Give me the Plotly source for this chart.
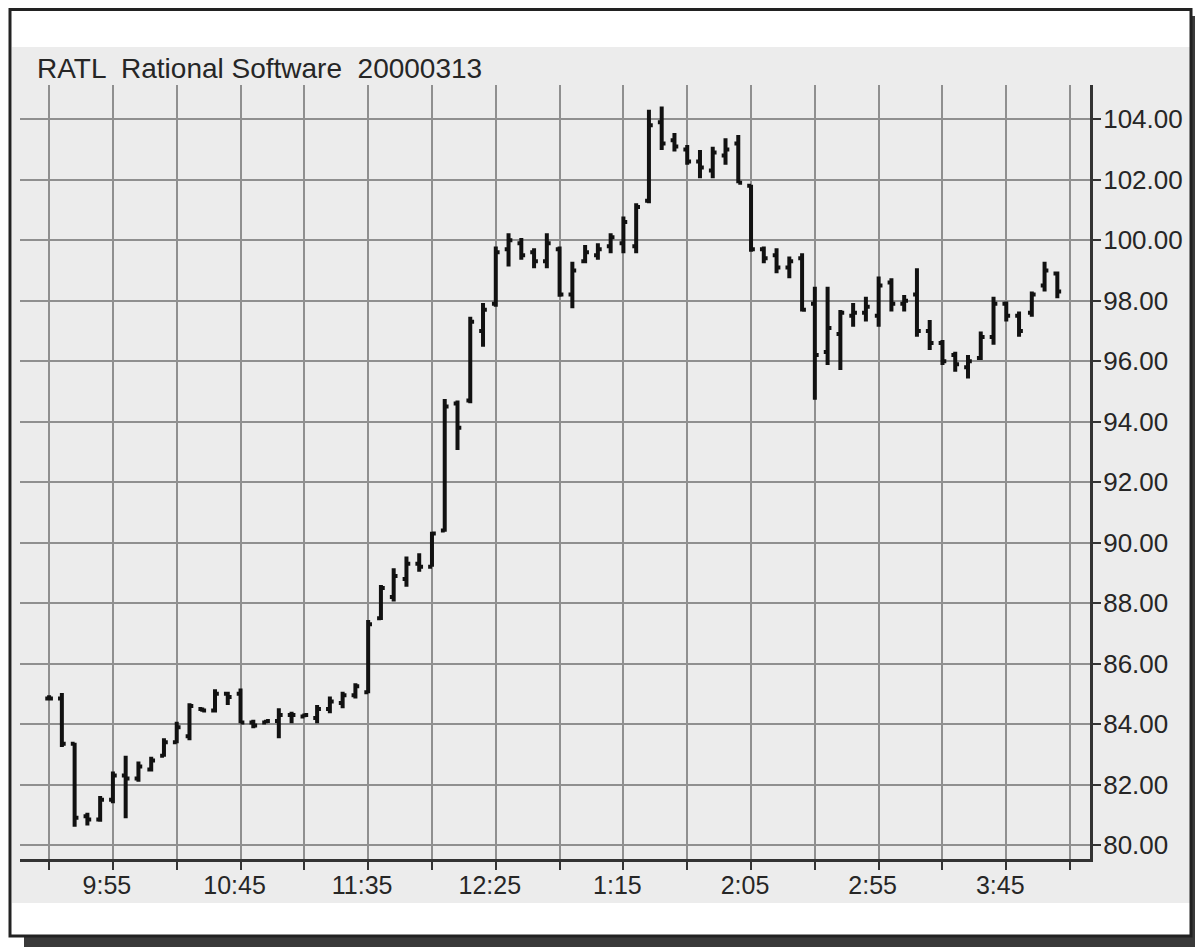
import pandas as pd
import plotly.graph_objects as go

title_text = "RATL  Rational Software  20000313"

times = pd.date_range("2000-03-13 09:30", periods=80, freq="5min")

opens = [84.85, 84.85, 83.35, 80.95, 80.85, 81.50, 82.30, 82.20, 82.50, 82.95,
         83.40, 83.60, 84.50, 84.45, 85.00, 85.00, 84.05, 84.05, 84.10, 84.30,
         84.25, 84.20, 84.50, 84.70, 84.95, 85.05, 87.50, 88.20, 88.80, 89.30,
         89.20, 90.40, 94.60, 94.70, 97.00, 97.90, 99.70, 99.90, 99.60, 99.30,
         99.70, 98.20, 99.30, 99.50, 99.80, 99.90, 99.80, 101.30, 103.90, 103.30,
         103.00, 102.60, 102.30, 102.80, 103.20, 101.80, 99.70, 99.50, 99.10, 99.40,
         97.90, 96.30, 96.90, 97.50, 97.60, 97.50, 98.60, 97.90, 98.20, 97.00,
         96.60, 96.20, 95.80, 96.10, 96.80, 97.90, 97.50, 97.60, 98.50, 98.90]
highs = [84.95, 85.03, 83.38, 81.07, 81.62, 82.43, 82.95, 82.76, 82.92, 83.53,
         84.08, 84.69, 84.55, 85.15, 85.07, 85.18, 84.14, 84.14, 84.52, 84.41,
         84.35, 84.63, 84.91, 85.07, 85.35, 87.44, 88.60, 89.15, 89.54, 89.65,
         90.36, 94.75, 94.70, 97.47, 97.92, 99.79, 100.23, 100.07, 99.73, 100.23,
         99.79, 99.29, 99.84, 99.90, 100.23, 100.78, 101.22, 104.31, 104.42, 103.54,
         103.15, 102.98, 103.09, 103.37, 103.48, 101.83, 99.79, 99.73, 99.46, 99.57,
         98.46, 98.46, 97.69, 97.92, 98.13, 98.80, 98.74, 98.19, 99.07, 97.36,
         96.70, 96.31, 96.20, 96.98, 98.13, 97.97, 97.64, 98.30, 99.29, 98.96]
lows = [84.78, 83.24, 80.61, 80.65, 80.77, 81.38, 80.89, 82.09, 82.43, 82.92,
        83.37, 83.47, 84.41, 84.38, 84.63, 84.03, 83.86, 84.03, 83.53, 84.03,
        84.23, 84.03, 84.36, 84.52, 84.85, 85.02, 87.44, 88.05, 88.54, 89.04,
        89.20, 90.36, 93.06, 94.61, 96.48, 97.80, 99.13, 99.35, 99.07, 99.07,
        98.13, 97.75, 99.24, 99.35, 99.57, 99.57, 99.57, 101.22, 102.98, 102.93,
        102.49, 102.05, 102.05, 102.49, 101.88, 99.62, 99.24, 98.91, 98.74, 97.64,
        94.72, 95.87, 95.71, 97.14, 97.31, 97.14, 97.64, 97.64, 96.81, 96.37,
        95.87, 95.65, 95.43, 96.04, 96.54, 97.31, 96.81, 97.47, 98.30, 98.08]
closes = [84.85, 83.35, 80.90, 80.85, 81.50, 82.30, 82.20, 82.60, 82.80, 83.40,
          83.90, 84.60, 84.45, 85.00, 84.90, 84.05, 83.95, 84.10, 84.30, 84.30,
          84.30, 84.50, 84.75, 84.95, 85.25, 87.30, 88.50, 88.90, 89.30, 89.20,
          90.30, 94.50, 93.80, 97.30, 97.70, 99.60, 100.00, 99.50, 99.30, 99.90,
          98.20, 99.00, 99.60, 99.70, 100.10, 100.60, 101.10, 103.80, 103.20, 103.10,
          102.60, 102.40, 102.90, 103.00, 101.90, 99.70, 99.40, 99.10, 99.30, 97.70,
          96.20, 97.10, 97.60, 97.60, 97.80, 98.50, 97.90, 98.00, 97.00, 96.60,
          96.00, 95.90, 96.00, 96.80, 97.90, 97.50, 97.00, 98.20, 99.00, 98.30]

x_tick_times = pd.date_range("2000-03-13 09:30", "2000-03-13 16:10", freq="25min")
x_tick_labels = ["", "9:55", "", "10:45", "", "11:35", "", "12:25", "",
                 "1:15", "", "2:05", "", "2:55", "", "3:45", ""]
y_tick_values = [80, 82, 84, 86, 88, 90, 92, 94, 96, 98, 100, 102, 104]

# the page body adds an 8px margin, so the figure is laid out 8px up/left
OFF = 8
W, H = 1203 - OFF, 947 - OFF
L_PX, R_PX, T_PX, B_PX = 20 - OFF, 1090 - OFF, 85 - OFF, 859 - OFF


def px_x(px):
    return (px - OFF - L_PX) / (R_PX - L_PX)


def px_y(py):
    return (B_PX - (py - OFF)) / (B_PX - T_PX)


fig = go.Figure(go.Ohlc(
    x=times, open=opens, high=highs, low=lows, close=closes,
    increasing=dict(line=dict(color="#111111", width=4)),
    decreasing=dict(line=dict(color="#111111", width=4)),
    tickwidth=0.3, showlegend=False, hoverinfo="x+y",
))

grid = "#8f8f8f"
axis_col = "#333333"
fig.update_layout(
    width=W, height=H,
    paper_bgcolor="white", plot_bgcolor="#ececec",
    margin=dict(l=L_PX, r=W - R_PX, t=T_PX, b=H - B_PX, pad=0),
    font=dict(family="Liberation Sans, Arial, sans-serif", color="#262626", size=25),
    xaxis=dict(
        type="date",
        range=["2000-03-13 09:18:36", "2000-03-13 16:17:48"],
        tickvals=list(x_tick_times), ticktext=x_tick_labels,
        showgrid=True, gridcolor=grid, gridwidth=1.8,
        showline=True, linecolor=axis_col, linewidth=3,
        ticks="outside", ticklen=8, tickwidth=2, tickcolor=axis_col,
        ticklabelshift=-6, ticklabelstandoff=-6,
        rangeslider=dict(visible=False), zeroline=False,
        tickfont=dict(size=25, color="#262626"),
    ),
    yaxis=dict(
        side="right", range=[79.54, 105.13],
        tickvals=y_tick_values, tickformat=".2f",
        showgrid=True, gridcolor=grid, gridwidth=1.8,
        showline=True, linecolor=axis_col, linewidth=3,
        ticks="outside", ticklen=8, tickwidth=2, tickcolor=axis_col,
        ticklabelstandoff=-3,
        zeroline=False, tickfont=dict(size=26, color="#262626"),
    ),
    shapes=[
        # gray panel
        dict(type="rect", xref="paper", yref="paper", layer="below",
             x0=px_x(12), x1=px_x(1190), y0=px_y(903), y1=px_y(47),
             fillcolor="#ececec", line=dict(width=0)),
        # shadow right
        dict(type="rect", xref="paper", yref="paper", layer="above",
             x0=px_x(1192), x1=px_x(1203), y0=px_y(947), y1=px_y(16),
             fillcolor="#3a3a3a", line=dict(width=0)),
        # shadow bottom
        dict(type="rect", xref="paper", yref="paper", layer="above",
             x0=px_x(24), x1=px_x(1203), y0=px_y(947), y1=px_y(937),
             fillcolor="#3a3a3a", line=dict(width=0)),
        # frame
        dict(type="rect", xref="paper", yref="paper", layer="above",
             x0=px_x(10), x1=px_x(1191), y0=px_y(936), y1=px_y(9.5),
             fillcolor="rgba(0,0,0,0)", line=dict(color="#222222", width=3)),
    ],
    annotations=[
        dict(text=title_text, xref="paper", yref="paper",
             x=px_x(35), y=px_y(68), xanchor="left", yanchor="middle",
             showarrow=False, font=dict(size=28, color="#262626")),
    ],
)

fig.write_html("out.html")
